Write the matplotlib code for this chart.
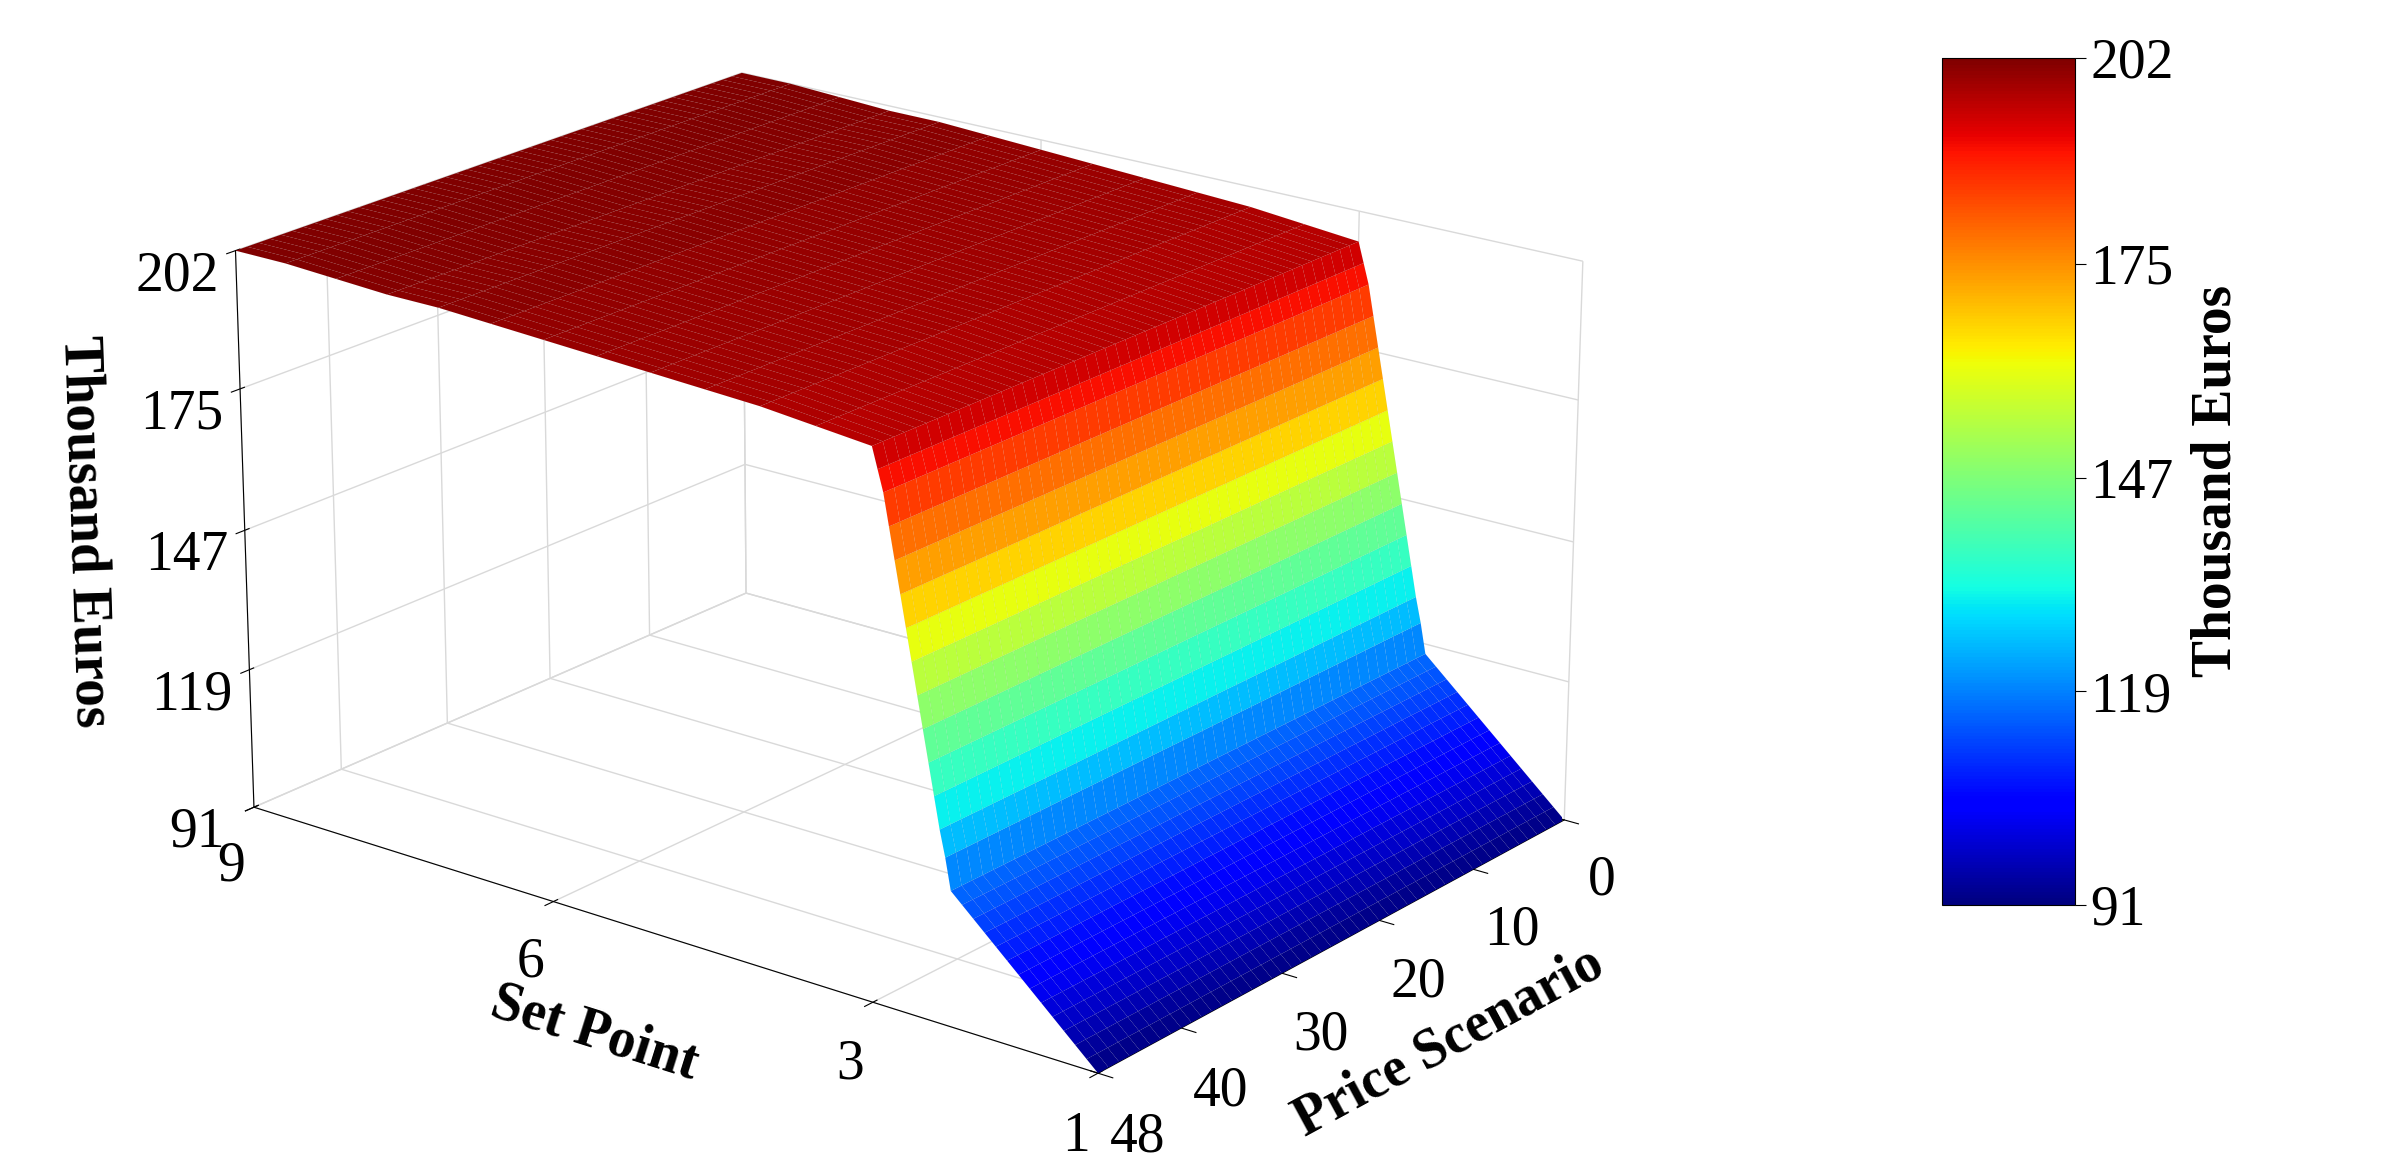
import numpy as np
import matplotlib
matplotlib.use("Agg")
import matplotlib.pyplot as plt
from matplotlib import cm, colors

plt.rcParams['font.family'] = ['Liberation Serif', 'DejaVu Serif']

# set point grid (finer where the surface jumps) and the cost read at each one
set_points = [1.0, 1.1, 1.2, 1.3, 1.4, 1.5, 1.6, 1.7, 1.8, 1.9, 2.0, 2.1, 2.2, 2.3,
              2.35, 2.4, 2.45, 2.5, 2.55, 2.6, 2.65, 2.7, 2.75, 2.8, 2.85, 2.9, 2.95, 3.0,
              3.5, 4.0, 4.5, 5.0, 5.5, 6.0, 6.5, 7.0, 7.5, 8.0, 8.5, 9.0]
cost = [91, 93, 95, 97, 99, 101, 103, 105, 107, 109, 111, 113, 115, 117,
        123, 128, 134, 140, 146, 152, 158, 164, 170, 176, 182, 188, 192, 196,
        197, 198, 198.5, 199, 199.5, 200, 200.5, 201, 201, 201.5, 202, 202]
price_scenarios = list(range(0, 49))

z_ticks = [91, 119, 147, 175, 202]
set_ticks = [1, 3, 6, 9]
price_ticks = [0, 10, 20, 30, 40, 48]

X, Y = np.meshgrid(set_points, price_scenarios)
Z = np.tile(np.array(cost), (len(price_scenarios), 1))

fig = plt.figure(figsize=(24.04, 11.6), dpi=100)
ax = fig.add_axes([0.0, -0.06, 0.74, 1.16], projection='3d')
norm = colors.Normalize(vmin=91, vmax=202)
surf = ax.plot_surface(X, Y, Z, cmap=cm.jet, norm=norm, rstride=1, cstride=1,
                       linewidth=0.2, edgecolor=(0, 0, 0, 0.08), antialiased=True)

ax.view_init(elev=20, azim=128)
ax.set_box_aspect((1.35, 1.0, 0.75), zoom=1.05)
ax.set_xlim(1, 9)
ax.set_ylim(0, 48)
ax.set_zlim(91, 202)
ax.set_xticks(set_ticks)
ax.set_yticks(price_ticks)
ax.set_zticks(z_ticks)
ax.tick_params(labelsize=40, pad=14)
for a in (ax.xaxis, ax.yaxis, ax.zaxis):
    a.set_pane_color((1, 1, 1, 1))
    a._axinfo['grid']['color'] = (0.85, 0.85, 0.85, 1)
    a._axinfo['grid']['linewidth'] = 1.0
    a.line.set_color('black')
ax.zaxis.set_ticks_position('upper')
ax.zaxis.set_label_position('upper')
ax.set_xlabel('Set Point', fontsize=40, fontweight='bold', labelpad=40)
ax.set_ylabel('Price Scenario', fontsize=40, fontweight='bold', labelpad=40)
ax.set_zlabel('Thousand Euros', fontsize=40, fontweight='bold', labelpad=40)

cax = fig.add_axes([0.808, 0.22, 0.055, 0.73])
cb = fig.colorbar(cm.ScalarMappable(norm=norm, cmap=cm.jet), cax=cax, ticks=z_ticks)
cb.ax.tick_params(labelsize=40, length=8)
cb.set_label('Thousand Euros', fontsize=40, fontweight='bold', labelpad=12)

fig.savefig('out.png', dpi=100)
